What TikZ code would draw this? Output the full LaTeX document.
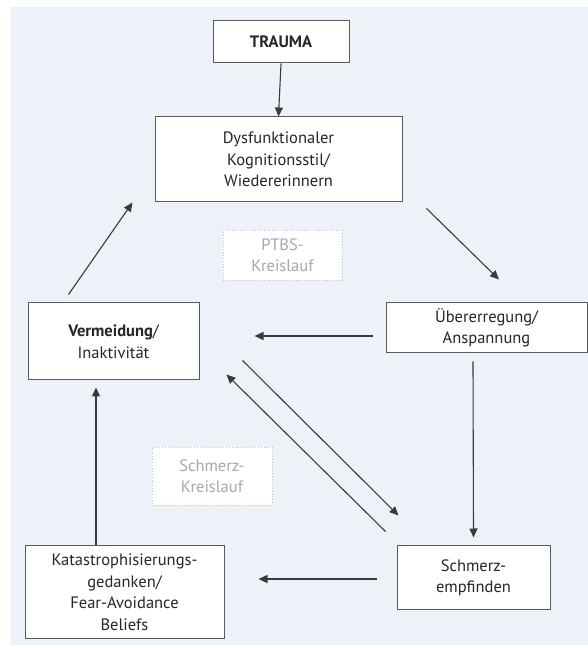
\documentclass[tikz,border=0pt]{standalone}
\usepackage{fontspec}
\setmainfont{PT Sans}
\usepackage{tikz}
\usetikzlibrary{positioning, arrows.meta, calc}
\definecolor{bgblue}{HTML}{EDF1F8}
\definecolor{linegray}{HTML}{3A3A3A}
\definecolor{boxgray}{HTML}{5A5A5A}
\definecolor{notegray}{HTML}{A8A8A8}

\begin{document}
\begin{tikzpicture}[
        x=1pt, y=1pt,
        box/.style   = {draw=boxgray, line width=1pt, fill=white, rectangle, inner sep=0pt, align=center,
                        text=black!85, font=\fontsize{16.5}{21.5}\selectfont},
        note/.style  = {draw=notegray!70, dotted, line width=0.9pt, fill=white, rectangle, inner sep=0pt, align=center,
                        text=notegray, font=\fontsize{16.5}{21.5}\selectfont},
        arrow/.style = {-{Triangle[length=9pt, width=8pt]}, draw=linegray, line width=1.1pt},
    ]
        \useasboundingbox (0,0) rectangle (588,648);
        \fill[bgblue] (11,3) rectangle (588,641);

        %---- boxes ----
        \node[box, minimum width=136pt, minimum height=42pt] (trauma) at (281,606) {\textbf{TRAUMA}};
        \node[box, minimum width=247pt, minimum height=85pt] (dys) at (278.5,488.5) {Dysfunktionaler\\Kognitionsstil/\\Wiedererinnern};
        \node[box, minimum width=171pt, minimum height=77pt] (verm) at (113.5,306.5) {\textbf{Vermeidung}/\\Inaktivität};
        \node[box, minimum width=201pt, minimum height=50pt] (ueber) at (486.5,320) {Übererregung/\\Anspannung};
        \node[box, minimum width=153pt, minimum height=64pt] (schmerz) at (473.5,70) {Schmerz-\\empfinden};
        \node[box, minimum width=199pt, minimum height=93pt] (kat) at (124.5,55.5) {Katastrophisierungs-\\gedanken/\\Fear-Avoidance\\Beliefs};

        %---- cycle labels ----
        \node[note, minimum width=119pt, minimum height=50pt] (ptbs) at (282.5,393) {PTBS-\\Kreislauf};
        \node[note, minimum width=120pt, minimum height=58pt] (skreis) at (212,172) {Schmerz-\\Kreislauf};

        %---- PTBS cycle ----
        \draw[arrow] (trauma.south) -- (dys.north);
        \draw[arrow] ($(dys.south east)+(24,-6)$) -- ($(ueber.north)+(12.5,23)$);
        \draw[arrow] ($(ueber.west)+(-13,-8)$) -- ($(verm.east)+(55,5.5)$);
        \draw[arrow] ($(verm.north west)+(41,8)$) -- ($(dys.south west)+(-22,0)$);

        %---- pain cycle ----
        \draw[arrow] ($(ueber.south)+(-13.5,-8)$) -- ($(schmerz.north)+(0,8)$);
        \draw[arrow] ($(verm.south east)+(43,20)$) -- ($(schmerz.north west)+(2,30)$);
        \draw[arrow] ($(schmerz.north west)+(-11,14)$) -- ($(verm.south east)+(27,6)$);
        \draw[arrow] ($(schmerz.west)+(-20,-1)$) -- ($(kat.east)+(34,13.5)$);
        \draw[arrow] ($(kat.north)+(-28.5,0)$) -- ($(verm.south)+(-17.5,-7)$);
    \end{tikzpicture}
\end{document}
